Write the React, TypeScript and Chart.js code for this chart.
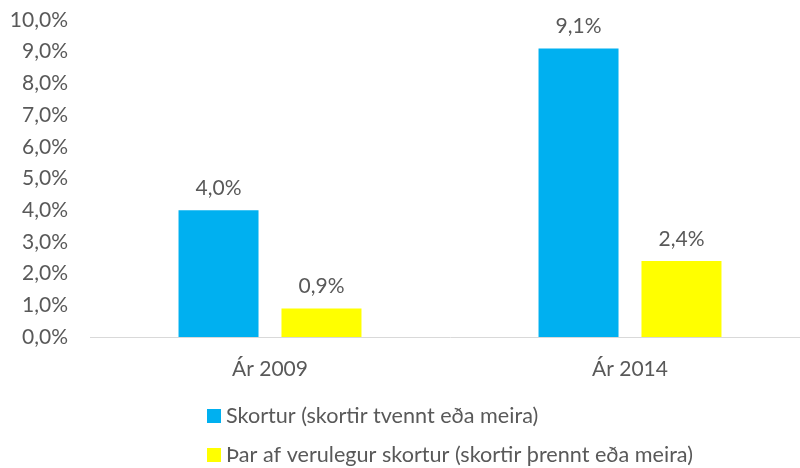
import React, { useEffect, useRef } from "react";
import { Chart, registerables } from "chart.js";

Chart.register(...registerables);

const categories = ["Ár 2009", "Ár 2014"];
const seriesNames = [
  "Skortur (skortir tvennt eða meira)",
  "Þar af verulegur skortur (skortir þrennt eða meira)",
];
const skortur = [4.0, 9.1];
const verulegur = [0.9, 2.4];
const colors = ["#00B0F0", "#FFFF00"];
const FONT = "Lato";
const TEXT = "#595959";
const FS = 21;
const LEGEND_FS = 21.6;

const fmt = (v: number) => v.toFixed(1).replace(".", ",") + "%";

const labelPlugin = {
  id: "barLabels",
  afterDatasetsDraw(chart: any) {
    const ctx = chart.ctx;
    ctx.save();
    ctx.font = `${FS}px ${FONT}`;
    ctx.fillStyle = TEXT;
    ctx.textAlign = "center";
    ctx.textBaseline = "middle";
    chart.data.datasets.forEach((ds: any, i: number) => {
      const meta = chart.getDatasetMeta(i);
      meta.data.forEach((bar: any, j: number) => {
        ctx.fillText(fmt(ds.data[j]), bar.x, bar.y - 22);
      });
    });
    ctx.restore();
  },
};

const legendPlugin = {
  id: "customLegend",
  afterDraw(chart: any) {
    const ctx = chart.ctx;
    ctx.save();
    ctx.font = `${LEGEND_FS}px ${FONT}`;
    ctx.textBaseline = "middle";
    ctx.textAlign = "left";
    const x0 = 207;
    const rows = [416, 455];
    chart.data.datasets.forEach((ds: any, i: number) => {
      const y = rows[i];
      ctx.fillStyle = ds.backgroundColor;
      ctx.fillRect(x0, y - 7, 14, 14);
      ctx.fillStyle = TEXT;
      ctx.fillText(ds.label, x0 + 19, y);
    });
    ctx.restore();
  },
};

export default function App() {
  const ref = useRef<HTMLCanvasElement>(null);
  useEffect(() => {
    if (!ref.current) return;
    const chart = new Chart(ref.current, {
      type: "bar",
      data: {
        labels: categories,
        datasets: [
          { label: seriesNames[0], data: skortur, backgroundColor: colors[0] },
          { label: seriesNames[1], data: verulegur, backgroundColor: colors[1] },
        ],
      },
      options: {
        animation: false,
        responsive: false,
        maintainAspectRatio: false,
        layout: { padding: { top: 20, left: 0, right: 10, bottom: 86 } },
        datasets: {
          bar: { categoryPercentage: 0.572, barPercentage: 0.777 },
        },
        plugins: {
          legend: { display: false },
          title: { display: false },
          tooltip: { enabled: false },
        },
        scales: {
          x: {
            grid: { display: false, drawTicks: false },
            border: { display: true, color: "#D9D9D9", width: 1 },
            ticks: { color: TEXT, font: { family: FONT, size: FS }, padding: 20 },
            afterFit: (s: any) => {
              s.height = 45;
              s.paddingLeft = 0;
              s.paddingRight = 0;
            },
          },
          y: {
            min: 0,
            max: 10,
            grid: { display: false, drawTicks: false },
            border: { display: false },
            ticks: {
              stepSize: 1,
              color: TEXT,
              font: { family: FONT, size: FS },
              padding: 22,
              callback: (v: any) => fmt(Number(v)),
            },
            afterFit: (s: any) => {
              s.width = 90;
              s.paddingTop = 0;
              s.paddingBottom = 0;
            },
          },
        },
      },
      plugins: [labelPlugin, legendPlugin],
    });
    return () => chart.destroy();
  }, []);
  return (
    <div
      style={{
        position: "fixed",
        left: 0,
        top: 0,
        width: 800,
        height: 468,
        overflow: "hidden",
        background: "#fff",
      }}
    >
      <canvas ref={ref} width={820} height={468} style={{ display: "block" }} />
    </div>
  );
}
